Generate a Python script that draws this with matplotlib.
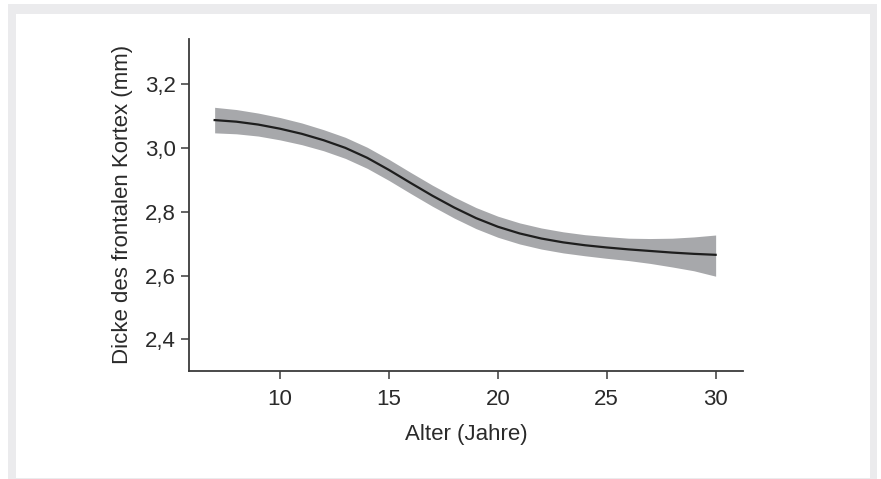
import matplotlib.pyplot as plt
import matplotlib.patches as mpatches
from matplotlib.ticker import FuncFormatter

# Data
alter = [7, 8, 9, 10, 11, 12, 13, 14, 15, 16, 17, 18, 19, 20, 21, 22, 23, 24, 25, 26, 27, 28, 29, 30]
dicke = [3.087, 3.082, 3.073, 3.060, 3.044, 3.024, 3.000, 2.969, 2.931, 2.890, 2.850, 2.813,
         2.780, 2.753, 2.732, 2.716, 2.704, 2.695, 2.688, 2.682, 2.677, 2.672, 2.668, 2.665]
ci_oben = [3.127, 3.120, 3.109, 3.095, 3.078, 3.057, 3.033, 3.002, 2.964, 2.923, 2.883, 2.846,
           2.813, 2.786, 2.765, 2.749, 2.737, 2.728, 2.722, 2.717, 2.716, 2.717, 2.721, 2.727]
ci_unten = [3.047, 3.044, 3.037, 3.025, 3.010, 2.991, 2.967, 2.936, 2.898, 2.857, 2.817, 2.780,
            2.747, 2.720, 2.699, 2.683, 2.671, 2.662, 2.654, 2.647, 2.638, 2.627, 2.615, 2.598]
xticks = [10, 15, 20, 25, 30]
yticks = [2.4, 2.6, 2.8, 3.0, 3.2]

plt.rcParams['font.family'] = ['Liberation Sans', 'DejaVu Sans']

W, H = 881, 479
fig = plt.figure(figsize=(W / 100, H / 100), dpi=100)

# grey frame around the figure
fig.patches.append(mpatches.Rectangle((8 / W, 0), (877 - 8) / W, (479 - 4) / H,
                                      transform=fig.transFigure, facecolor='#ebebed',
                                      edgecolor='none', zorder=-2))
fig.patches.append(mpatches.Rectangle((16 / W, 1 / H), (870 - 16) / W, (478 - 14) / H,
                                      transform=fig.transFigure, facecolor='white',
                                      edgecolor='none', zorder=-1))

ax = fig.add_axes([188.5 / W, 1 - 370.7 / H, (743.3 - 188.5) / W, (370.7 - 39) / H])
ax.patch.set_alpha(0)

ax.fill_between(alter, ci_unten, ci_oben, color='#a7a8ab', linewidth=0)
ax.plot(alter, dicke, color='#1e1e1e', linewidth=1.6)

ax.set_xlim(5.8, 31.27)
ax.set_ylim(2.302, 3.341)
ax.set_xticks(xticks)
ax.set_yticks(yticks)
ax.yaxis.set_major_formatter(FuncFormatter(lambda v, p: f"{v:.1f}".replace('.', ',')))

for s in ['top', 'right']:
    ax.spines[s].set_visible(False)
for s in ['left', 'bottom']:
    ax.spines[s].set_color('#3a3a3a')
    ax.spines[s].set_linewidth(1.3)

ax.tick_params(axis='both', colors='#3a3a3a', width=1.1, labelsize=16, labelcolor='#2a2a2a')
ax.tick_params(axis='x', length=6, pad=7)
ax.tick_params(axis='y', length=6, pad=3)

ax.set_xlabel('Alter (Jahre)', fontsize=16, color='#2a2a2a', labelpad=10)
ax.set_ylabel('Dicke des frontalen Kortex (mm)', fontsize=16, color='#2a2a2a', labelpad=9)

fig.savefig('out.png', dpi=100)
